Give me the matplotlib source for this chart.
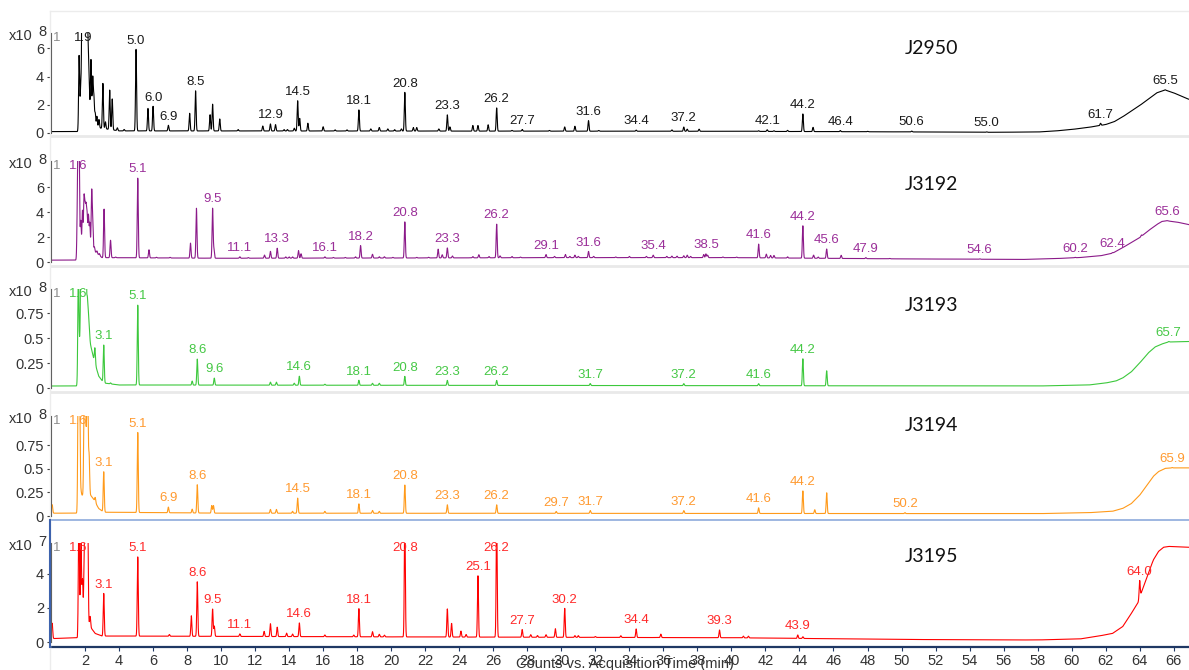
import numpy as np
import matplotlib.pyplot as plt
from matplotlib.lines import Line2D
from matplotlib.ticker import FuncFormatter

plt.rcParams['font.family'] = ['Liberation Sans', 'DejaVu Sans']

# ---- J2950 (x10^8 counts) ----
j2950_base_t = [0.05, 1.6, 1.65, 2.2, 2.6, 4.0, 20, 40, 50, 55, 58, 59, 60, 61, 62, 62.5, 63.0, 63.5,
                64.0, 64.5, 65.0, 65.5, 65.9, 66.4, 66.86]
j2950_base_v = [0.1, 0.1, 1.2, 1.2, 0.4, 0.15, 0.14, 0.12, 0.08, 0.05, 0.07, 0.14, 0.25, 0.4, 0.6, 0.8,
                1.15, 1.55, 1.95, 2.4, 2.85, 3.05, 2.9, 2.65, 2.4]
j2950_peak_t = [1.65, 1.75, 1.82, 1.85, 1.88, 1.9, 1.95, 2.0, 2.05, 2.1, 2.15, 2.2, 2.25, 2.35, 2.45,
                2.52, 2.6, 2.7, 2.82, 3.05, 3.2, 3.45, 3.6, 3.9, 4.3, 5.0, 5.7, 6.0, 6.9, 8.15, 8.5,
                9.35, 9.5, 9.92, 11.0, 12.45, 12.9, 13.2, 13.7, 13.9, 14.3, 14.5, 14.62, 15.1, 16.0,
                16.7, 17.4, 18.1, 18.8, 19.3, 19.8, 20.2, 20.6, 20.8, 21.3, 21.5, 22.8, 23.3, 23.45,
                24.8, 25.1, 25.7, 26.2, 27.1, 27.7, 29.3, 30.2, 30.8, 31.6, 32.2, 34.4, 36.5, 37.2,
                37.4, 38.1, 41.6, 42.1, 42.5, 43.3, 44.2, 44.8, 46.4, 48.0, 50.6, 55.0, 61.7, 65.5]
j2950_peak_h = [4.3, 2.0, 5.0, 6.8, 6.5, 7.0, 6.6, 6.9, 6.5, 6.0, 4.5, 3.0, 1.8, 4.3, 3.2,
                2.0, 1.0, 0.8, 0.6, 3.2, 0.5, 2.8, 2.2, 0.2, 0.1, 5.8, 1.6, 1.75, 0.4, 1.25, 2.85,
                1.15, 1.9, 0.85, 0.1, 0.35, 0.5, 0.45, 0.1, 0.1, 0.2, 2.15, 0.9, 0.55, 0.3,
                0.08, 0.08, 1.5, 0.15, 0.25, 0.15, 0.1, 0.15, 2.75, 0.25, 0.25, 0.15, 1.15, 0.3,
                0.4, 0.4, 0.45, 1.65, 0.05, 0.12, 0.05, 0.3, 0.35, 0.75, 0.05, 0.08, 0.1, 0.3,
                0.15, 0.15, 0.05, 0.12, 0.05, 0.08, 1.25, 0.3, 0.08, 0.03, 0.06, 0.03, 0.15, 0.02]
j2950_labels = [1.9, 5.0, 6.0, 6.9, 8.5, 12.9, 14.5, 18.1, 20.8, 23.3, 26.2, 27.7, 31.6, 34.4, 37.2,
                42.1, 44.2, 46.4, 50.6, 55.0, 61.7, 65.5]

# ---- J3192 (x10^8 counts) ----
j3192_base_t = [0.05, 1.55, 1.62, 2.6, 3.0, 10, 20, 30, 40, 45, 50, 55, 57, 59, 60.5, 61.7, 62.4, 63.0,
                63.5, 64.0, 64.5, 65.0, 65.3, 65.6, 66.2, 66.86]
j3192_base_v = [0.15, 0.15, 0.8, 0.8, 0.35, 0.3, 0.32, 0.35, 0.35, 0.3, 0.25, 0.22, 0.2, 0.27, 0.36, 0.5,
                0.7, 1.15, 1.55, 1.95, 2.5, 3.0, 3.25, 3.3, 3.2, 3.0]
j3192_peak_t = [1.55, 1.6, 1.65, 1.75, 1.85, 1.94, 2.0, 2.06, 2.12, 2.2, 2.28, 2.39, 2.45, 2.55, 2.7,
                2.85, 3.12, 3.5, 3.8, 5.1, 5.76, 6.2, 7.0, 8.2, 8.55, 9.5, 9.58, 11.1, 11.6, 12.55,
                12.9, 13.3, 13.8, 14.0, 14.2, 14.55, 14.7, 16.1, 16.6, 17.3, 17.9, 18.2, 18.9, 19.3,
                19.6, 20.1, 20.8, 21.5, 22.2, 22.76, 23.0, 23.3, 23.6, 24.8, 25.15, 25.75, 26.2, 26.4,
                27.1, 27.6, 29.1, 29.6, 30.24, 30.5, 30.8, 31.0, 31.6, 31.9, 33.2, 34.0, 35.0, 35.4,
                36.2, 36.5, 36.8, 37.2, 37.4, 37.6, 38.37, 38.5, 38.6, 39.5, 40.3, 41.6, 42.05, 42.3,
                42.5, 43.3, 44.2, 44.83, 45.1, 45.6, 46.45, 47.9, 49.3, 54.6, 60.2, 62.4, 64.1, 65.6]
j3192_peak_h = [3.5, 8.5, 8.0, 2.5, 3.3, 4.1, 3.1, 3.2, 2.8, 2.9, 2.3, 4.7, 2.3, 0.4, 0.2,
                0.15, 3.9, 1.4, 0.05, 6.4, 0.65, 0.05, 0.05, 1.2, 4.0, 4.0, 0.7, 0.12, 0.05, 0.25,
                0.55, 0.8, 0.1, 0.1, 0.1, 0.6, 0.35, 0.1, 0.05, 0.05, 0.1, 1.0, 0.3, 0.1,
                0.1, 0.05, 2.9, 0.05, 0.05, 0.7, 0.25, 0.8, 0.15, 0.1, 0.25, 0.1, 2.7, 0.15,
                0.1, 0.05, 0.25, 0.1, 0.25, 0.1, 0.2, 0.1, 0.5, 0.1, 0.05, 0.1, 0.1, 0.2,
                0.1, 0.12, 0.12, 0.15, 0.2, 0.1, 0.25, 0.3, 0.2, 0.05, 0.05, 1.1, 0.3, 0.2,
                0.2, 0.1, 2.6, 0.25, 0.1, 0.75, 0.25, 0.08, 0.03, 0.03, 0.03, 0.05, 0.1, 0.02]
j3192_labels = [1.6, 5.1, 9.5, 11.1, 13.3, 16.1, 18.2, 20.8, 23.3, 26.2, 29.1, 31.6, 35.4, 38.5, 41.6,
                44.2, 45.6, 47.9, 54.6, 60.2, 62.4, 65.6]

# ---- J3193 (x10^8 counts) ----
j3193_base_t = [0.05, 1.55, 1.62, 2.1, 2.5, 2.8, 3.1, 4.0, 30, 58, 61, 62, 62.6, 63.0, 63.5, 64.0, 64.5,
                64.9, 65.3, 65.7, 66.86]
j3193_base_v = [0.02, 0.02, 0.45, 0.6, 0.3, 0.12, 0.05, 0.03, 0.025, 0.02, 0.03, 0.05, 0.07, 0.1, 0.16,
                0.25, 0.35, 0.41, 0.44, 0.46, 0.465]
j3193_peak_t = [1.6, 1.68, 1.76, 1.8, 1.85, 1.9, 1.95, 2.0, 2.05, 2.13, 2.19, 2.25, 2.58, 3.1, 3.5, 5.1,
                8.3, 8.6, 9.6, 12.9, 13.25, 14.3, 14.6, 16.1, 18.1, 18.9, 19.3, 20.8, 23.3, 26.2, 31.7,
                37.2, 41.6, 44.2, 45.6, 65.7]
j3193_peak_h = [0.9, 0.0, 0.7, 0.8, 0.75, 0.8, 0.75, 0.8, 0.7, 0.3, 0.2, 0.1, 0.15, 0.38, 0.01, 0.8,
                0.04, 0.26, 0.07, 0.03, 0.03, 0.02, 0.09, 0.01, 0.05, 0.02, 0.02, 0.09, 0.05, 0.05, 0.02,
                0.02, 0.02, 0.27, 0.15, 0.005]
j3193_labels = [1.6, 3.1, 5.1, 8.6, 9.6, 14.6, 18.1, 20.8, 23.3, 26.2, 31.7, 37.2, 41.6, 44.2, 65.7]

# ---- J3194 (x10^8 counts) ----
j3194_base_t = [0.05, 1.55, 1.62, 2.2, 2.5, 2.8, 3.1, 10, 58, 61, 62.4, 63.0, 63.5, 64.0, 64.4, 64.8,
                65.1, 65.5, 66.0, 66.86]
j3194_base_v = [0.03, 0.03, 0.2, 0.25, 0.18, 0.08, 0.04, 0.03, 0.025, 0.035, 0.05, 0.08, 0.13, 0.22,
                0.32, 0.42, 0.47, 0.505, 0.51, 0.51]
j3194_peak_t = [0.07, 1.6, 1.68, 1.76, 1.95, 2.02, 2.1, 2.16, 2.24, 2.6, 3.1, 5.1, 6.9, 8.3, 8.6, 9.45,
                9.55, 12.9, 13.25, 14.2, 14.5, 16.1, 18.1, 18.9, 19.3, 20.8, 23.3, 26.2, 29.7, 31.7,
                37.2, 41.6, 44.2, 44.9, 45.6, 50.2, 65.9]
j3194_peak_h = [0.09, 1.3, 1.2, 0.05, 1.0, 1.1, 0.7, 1.0, 0.4, 0.05, 0.43, 0.85, 0.06, 0.04, 0.3, 0.08,
                0.08, 0.04, 0.04, 0.02, 0.16, 0.02, 0.1, 0.03, 0.02, 0.3, 0.09, 0.09, 0.02, 0.03,
                0.03, 0.06, 0.24, 0.04, 0.22, 0.01, 0.005]
j3194_labels = [1.6, 3.1, 5.1, 6.9, 8.6, 14.5, 18.1, 20.8, 23.3, 26.2, 29.7, 31.7, 37.2, 41.6, 44.2,
                50.2, 65.9]

# ---- J3195 (x10^7 counts) ----
j3195_base_t = [0.05, 1.55, 1.62, 1.9, 2.3, 2.6, 3.0, 20, 40, 45, 50, 56, 58, 60.5, 61.6, 62.4, 63.0,
                63.4, 63.9, 64.1, 64.5, 64.8, 65.1, 65.4, 65.7, 66.86]
j3195_base_v = [0.2, 0.25, 1.2, 1.5, 0.9, 0.5, 0.35, 0.3, 0.25, 0.2, 0.15, 0.12, 0.12, 0.18, 0.35, 0.5,
                0.9, 1.5, 2.3, 2.9, 4.0, 4.8, 5.3, 5.55, 5.6, 5.55]
j3195_peak_t = [0.07, 1.64, 1.76, 1.85, 1.96, 2.03, 2.1, 2.16, 2.3, 3.1, 5.1, 6.96, 8.25, 8.6, 9.5,
                9.6, 11.1, 12.53, 12.9, 13.3, 13.85, 14.2, 14.6, 16.1, 17.8, 18.1, 18.9, 19.3, 19.6,
                20.8, 23.3, 23.55, 24.1, 24.4, 25.1, 26.2, 27.7, 28.2, 28.6, 29.1, 29.65, 30.2, 30.8,
                31.0, 32.0, 33.5, 34.4, 35.85, 39.3, 40.7, 41.0, 43.9, 44.2, 64.0]
j3195_peak_h = [0.9, 6.5, 4.6, 2.2, 4.3, 6.5, 6.5, 6.0, 0.6, 2.5, 4.65, 0.1, 1.2, 3.2, 1.6,
                0.6, 0.15, 0.3, 0.75, 0.55, 0.2, 0.15, 0.8, 0.1, 0.1, 1.65, 0.3, 0.15, 0.1,
                7.0, 1.65, 0.8, 0.35, 0.15, 3.6, 7.0, 0.45, 0.15, 0.1, 0.15, 0.5, 1.7, 0.1,
                0.1, 0.05, 0.1, 0.5, 0.2, 0.45, 0.1, 0.1, 0.2, 0.1, 1.0]
j3195_labels = [1.6, 3.1, 5.1, 8.6, 9.5, 11.1, 14.6, 18.1, 20.8, 25.1, 26.2, 27.7, 30.2, 34.4, 39.3,
                43.9, 64.0]

sample_names = ['J2950', 'J3192', 'J3193', 'J3194', 'J3195']
exponents = ['8', '8', '8', '8', '7']
x_ticks = list(range(2, 67, 2))

# retention time grid, min
t = np.arange(0.05, 66.9, 0.004)


def chromatogram(base_t, base_v, peak_t, peak_h, width=0.03):
    y = np.interp(t, base_t, base_v)
    for c, h in zip(peak_t, peak_h):
        y = y + h * np.exp(-0.5 * ((t - c) / width) ** 2)
    return y


traces = [
    chromatogram(j2950_base_t, j2950_base_v, j2950_peak_t, j2950_peak_h),
    chromatogram(j3192_base_t, j3192_base_v, j3192_peak_t, j3192_peak_h),
    chromatogram(j3193_base_t, j3193_base_v, j3193_peak_t, j3193_peak_h),
    chromatogram(j3194_base_t, j3194_base_v, j3194_peak_t, j3194_peak_h),
    chromatogram(j3195_base_t, j3195_base_v, j3195_peak_t, j3195_peak_h),
]
labels = [j2950_labels, j3192_labels, j3193_labels, j3194_labels, j3195_labels]

# panel layout in pixels: top of y range, y=0 line, bottom edge
W, H = 1189, 670
panel_px = [(33, 133, 136), (161, 262, 266), (289, 388, 392), (416, 516, 520), (543, 642, 647)]
y_tops = [7.1, 8.1, 0.99, 1.06, 5.8]
y_ticks = [[0, 2, 4, 6], [0, 2, 4, 6], [0, 0.25, 0.5, 0.75], [0, 0.25, 0.5, 0.75], [0, 2, 4]]
line_cols = ['#000000', '#8b1a89', '#3cc83c', '#ff9a1a', '#ff0000']
text_cols = ['#1a1a1a', '#9b2f99', '#45c845', '#ff9a30', '#ff2a2a']
bottom_cols = ['#e9e9e9', '#e9e9e9', '#e9e9e9', '#8eaadb', '#1f3864']
bottom_lw = [2, 2, 2, 1.2, 1.6]
name_y = [0.85, 0.78, 0.84, 0.91, 0.87]

fig = plt.figure(figsize=(W / 100, H / 100), dpi=100)

# faint outer frame of the plot area
fig.add_artist(Line2D([50 / W, 1], [1 - 11 / H, 1 - 11 / H], color='#ececec', lw=1))
fig.add_artist(Line2D([50 / W, 50 / W], [1 - 11 / H, 0], color='#ececec', lw=1))

left = 51
for i in range(5):
    top_px, zero_px, bot_px = panel_px[i]
    ax = fig.add_axes([left / W, 1 - bot_px / H, (W - left) / W, (bot_px - top_px) / H])
    ytop = y_tops[i]
    ybot = -ytop * (bot_px - zero_px) / (zero_px - top_px)
    y = traces[i]
    ax.plot(t, y, color=line_cols[i], lw=0.8)
    ax.set_xlim(0, 66.9)
    ax.set_ylim(ybot, ytop)

    for s in ['top', 'right']:
        ax.spines[s].set_visible(False)
    ax.spines['left'].set_bounds(0, ytop)
    ax.spines['left'].set_color('#404040')
    ax.spines['bottom'].set_color(bottom_cols[i])
    ax.spines['bottom'].set_linewidth(bottom_lw[i])

    ax.set_yticks(y_ticks[i])
    ax.yaxis.set_major_formatter(FuncFormatter(lambda v, p: '%g' % v))
    ax.tick_params(axis='y', length=3, width=0.8, color='#404040', labelsize=10.5,
                   labelcolor='#333333', pad=2)

    if i < 4:
        ax.set_xticks([])
    else:
        ax.set_xticks(x_ticks)
        ax.tick_params(axis='x', length=3, color='#1f3864', labelsize=10.5,
                       labelcolor='#333333', pad=2)

    # peak retention time labels
    cap = 0.86 * ytop
    for lt in labels[i]:
        near = (t > lt - 0.06) & (t < lt + 0.06)
        ly = min(y[near].max(), cap)
        ax.annotate('%.1f' % lt, (lt, ly), xytext=(0, 2), textcoords='offset points',
                    ha='center', va='bottom', fontsize=9.5, color=text_cols[i])
    ax.annotate('1', (0.35, cap), xytext=(0, 2), textcoords='offset points',
                ha='center', va='bottom', fontsize=9.5, color='#8c8c8c')

    ax.text(0.774, name_y[i], sample_names[i], transform=ax.transAxes, ha='center',
            va='center', fontsize=14, color='#111111', family=['Lato', 'DejaVu Sans'])

    # scale factor next to the y axis
    fig.text(33 / W, 1 - (top_px + 3) / H, 'x10', ha='right', va='center', fontsize=10.5,
             color='#333333')
    fig.text(38 / W, 1 - (top_px - 1) / H, exponents[i], ha='left', va='center',
             fontsize=10.5, color='#333333')

# highlight frame of the active panel
fig.add_artist(Line2D([50 / W, 50 / W], [1 - 520 / H, 1 - 647 / H], color='#3d62ad', lw=1.5))

fig.text(625 / W, 1 - 664 / H, 'Counts vs. Acquisition Time (min)', ha='center', va='center',
         fontsize=10.5, color='#333333')

fig.savefig('out.png', dpi=100)
